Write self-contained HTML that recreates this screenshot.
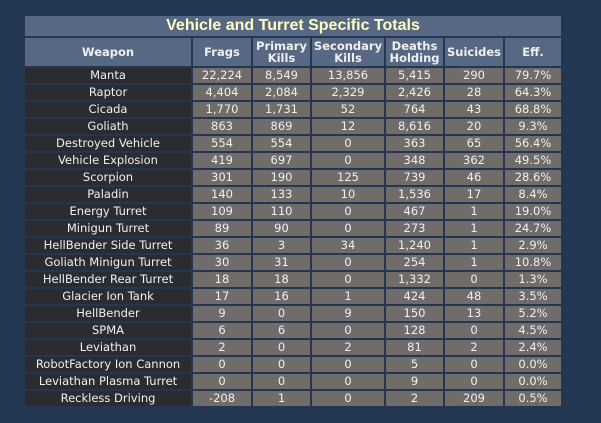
<!DOCTYPE html>
<html><head><style>
body{margin:0;width:601px;height:423px;background:#233752;overflow:hidden;font-family:"DejaVu Sans","Liberation Sans",sans-serif;}
table{position:absolute;left:23px;top:14px;border-collapse:separate;border-spacing:2px;table-layout:fixed;}
td{padding:0;text-align:center;color:#f0f0f0;font-size:11.5px;height:15px;line-height:15px;white-space:nowrap;overflow:hidden;background:#6f6c69;}
td.w{background:#2b2c32;}
.t td{background:#566883;color:#ffffc0;font-weight:bold;font-size:16px;height:20px;line-height:20px;font-family:"Liberation Sans",sans-serif;}
.h td{background:#566883;font-weight:bold;height:28px;line-height:12px;font-size:11.5px;}
</style></head><body>
<table>
<colgroup><col style="width:166px"><col style="width:58px"><col style="width:57px"><col style="width:72px"><col style="width:57px"><col style="width:58px"><col style="width:56px"></colgroup>
<tr class="t"><td colspan="7">Vehicle and Turret Specific Totals</td></tr>
<tr class="h"><td>Weapon</td><td>Frags</td><td>Primary<br>Kills</td><td>Secondary<br>Kills</td><td>Deaths<br>Holding</td><td>Suicides</td><td>Eff.</td></tr>
<tr><td class="w">Manta</td><td>22,224</td><td>8,549</td><td>13,856</td><td>5,415</td><td>290</td><td>79.7%</td></tr>
<tr><td class="w">Raptor</td><td>4,404</td><td>2,084</td><td>2,329</td><td>2,426</td><td>28</td><td>64.3%</td></tr>
<tr><td class="w">Cicada</td><td>1,770</td><td>1,731</td><td>52</td><td>764</td><td>43</td><td>68.8%</td></tr>
<tr><td class="w">Goliath</td><td>863</td><td>869</td><td>12</td><td>8,616</td><td>20</td><td>9.3%</td></tr>
<tr><td class="w">Destroyed Vehicle</td><td>554</td><td>554</td><td>0</td><td>363</td><td>65</td><td>56.4%</td></tr>
<tr><td class="w">Vehicle Explosion</td><td>419</td><td>697</td><td>0</td><td>348</td><td>362</td><td>49.5%</td></tr>
<tr><td class="w">Scorpion</td><td>301</td><td>190</td><td>125</td><td>739</td><td>46</td><td>28.6%</td></tr>
<tr><td class="w">Paladin</td><td>140</td><td>133</td><td>10</td><td>1,536</td><td>17</td><td>8.4%</td></tr>
<tr><td class="w">Energy Turret</td><td>109</td><td>110</td><td>0</td><td>467</td><td>1</td><td>19.0%</td></tr>
<tr><td class="w">Minigun Turret</td><td>89</td><td>90</td><td>0</td><td>273</td><td>1</td><td>24.7%</td></tr>
<tr><td class="w">HellBender Side Turret</td><td>36</td><td>3</td><td>34</td><td>1,240</td><td>1</td><td>2.9%</td></tr>
<tr><td class="w">Goliath Minigun Turret</td><td>30</td><td>31</td><td>0</td><td>254</td><td>1</td><td>10.8%</td></tr>
<tr><td class="w">HellBender Rear Turret</td><td>18</td><td>18</td><td>0</td><td>1,332</td><td>0</td><td>1.3%</td></tr>
<tr><td class="w">Glacier Ion Tank</td><td>17</td><td>16</td><td>1</td><td>424</td><td>48</td><td>3.5%</td></tr>
<tr><td class="w">HellBender</td><td>9</td><td>0</td><td>9</td><td>150</td><td>13</td><td>5.2%</td></tr>
<tr><td class="w">SPMA</td><td>6</td><td>6</td><td>0</td><td>128</td><td>0</td><td>4.5%</td></tr>
<tr><td class="w">Leviathan</td><td>2</td><td>0</td><td>2</td><td>81</td><td>2</td><td>2.4%</td></tr>
<tr><td class="w">RobotFactory Ion Cannon</td><td>0</td><td>0</td><td>0</td><td>5</td><td>0</td><td>0.0%</td></tr>
<tr><td class="w">Leviathan Plasma Turret</td><td>0</td><td>0</td><td>0</td><td>9</td><td>0</td><td>0.0%</td></tr>
<tr><td class="w">Reckless Driving</td><td>-208</td><td>1</td><td>0</td><td>2</td><td>209</td><td>0.5%</td></tr>
</table>
</body></html>
